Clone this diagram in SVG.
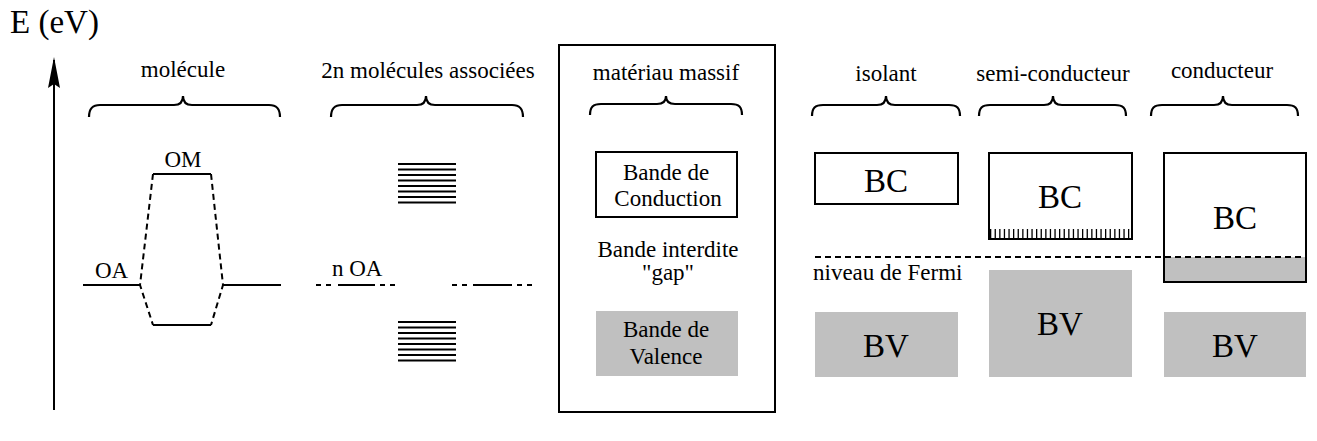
<svg xmlns="http://www.w3.org/2000/svg" width="1317" height="441" viewBox="0 0 1317 441">
<defs>
<style>
text{fill:#000}
.t{font-size:23px}
.big{font-size:33px}
.mid{text-anchor:middle}
.ln{stroke:#000;stroke-width:2;fill:none}
.dash{stroke:#000;stroke-width:2;fill:none;stroke-dasharray:6 4}
.br{stroke:#000;stroke-width:2.2;fill:none}
.box{stroke:#000;stroke-width:2;fill:#fff}
.grey{fill:#c0c0c0}
.stack{stroke:#000;stroke-width:2}
</style>
</defs>
<rect width="1317" height="441" fill="#fff"/>
<g font-family="'Liberation Serif', 'Times New Roman', 'DejaVu Serif', serif">

<g id="axis">
<line x1="54" y1="410" x2="54" y2="60" class="ln"/>
<path d="M54,57 L60,88 L54,84 L48,88 Z" fill="#000"/>
<text x="10" y="33" class="big">E (eV)</text>
</g>

<g id="molecule">
<text x="183" y="77" class="t mid">molécule</text>
<path class="br" d="M89,117 C89,109 92,105 100,105 L174,105 C180,105 183,102 183,96 C183,102 186,105 192,105 L269,105 C277,105 280,109 280,117"/>
<text x="183" y="167" class="t mid">OM</text>
<line x1="153" y1="174" x2="211" y2="174" class="ln"/>
<line x1="153" y1="325" x2="211" y2="325" class="ln"/>
<line x1="83" y1="285" x2="140" y2="285" class="ln"/>
<line x1="223" y1="285" x2="281" y2="285" class="ln"/>
<text x="95" y="278" class="t">OA</text>
<path class="dash" d="M153,174 L140,285 L153,325"/>
<path class="dash" d="M211,174 L223,285 L211,325"/>
</g>

<g id="associated">
<text x="428" y="78" class="t mid">2n molécules associées</text>
<path class="br" d="M331,117 C331,109 334,105 342,105 L417,105 C423,105 426,102 426,96 C426,102 429,105 435,105 L512,105 C520,105 523,109 523,117"/>
<g class="stack">
<line x1="398" y1="164" x2="456" y2="164"/>
<line x1="398" y1="169.5" x2="456" y2="169.5"/>
<line x1="398" y1="175" x2="456" y2="175"/>
<line x1="398" y1="180.5" x2="456" y2="180.5"/>
<line x1="398" y1="186" x2="456" y2="186"/>
<line x1="398" y1="191.5" x2="456" y2="191.5"/>
<line x1="398" y1="197" x2="456" y2="197"/>
<line x1="398" y1="202.5" x2="456" y2="202.5"/>
<line x1="398" y1="322" x2="456" y2="322"/>
<line x1="398" y1="327.5" x2="456" y2="327.5"/>
<line x1="398" y1="333" x2="456" y2="333"/>
<line x1="398" y1="338.5" x2="456" y2="338.5"/>
<line x1="398" y1="344" x2="456" y2="344"/>
<line x1="398" y1="349.5" x2="456" y2="349.5"/>
<line x1="398" y1="355" x2="456" y2="355"/>
<line x1="398" y1="360.5" x2="456" y2="360.5"/>
</g>
<text x="332" y="276" class="t">n OA</text>
<path d="M316,285 L333,285 M380,285 L397,285 M452,285 L469,285 M517,285 L534,285" stroke="#000" stroke-width="2" stroke-dasharray="5 5"/>
<path d="M338,285 L375,285 M473,285 L512,285" class="ln"/>
</g>

<g id="bulk">
<rect x="559" y="45" width="216" height="367" class="ln"/>
<text x="666" y="80" class="t mid">matériau massif</text>
<path class="br" d="M590,115 C590,107 593,104 601,104 L657,104 C663,104 666,101 666,96 C666,101 669,104 675,104 L731,104 C739,104 742,107 742,115"/>
<rect x="596" y="152" width="141" height="65" class="box"/>
<text x="666" y="180" class="t mid">Bande de</text>
<text x="668" y="206" class="t mid">Conduction</text>
<text x="668" y="257" class="t mid">Bande interdite</text>
<text x="668" y="280" class="t mid">"gap"</text>
<rect x="596" y="311" width="142" height="65" class="grey"/>
<text x="666" y="337" class="t mid">Bande de</text>
<text x="666" y="364" class="t mid">Valence</text>
</g>

<g id="isolant">
<text x="886" y="81" class="t mid">isolant</text>
<path class="br" d="M812,116 C812,108 815,105 823,105 L877,105 C883,105 886,102 886,96 C886,102 889,105 895,105 L949,105 C957,105 960,108 960,116"/>
<rect x="815" y="153" width="143" height="51" class="box"/>
<text x="886" y="192" class="big mid">BC</text>
<rect x="815" y="312" width="143" height="65" class="grey"/>
<text x="886" y="357" class="big mid">BV</text>
</g>

<g id="semi">
<text x="1053" y="81" class="t mid">semi-conducteur</text>
<path class="br" d="M979,116 C979,108 982,105 990,105 L1044,105 C1050,105 1053,102 1053,96 C1053,102 1056,105 1062,105 L1115,105 C1123,105 1126,108 1126,116"/>
<rect x="989" y="153" width="143" height="86" class="box"/>
<line x1="990" y1="234" x2="1131" y2="234" stroke="#000" stroke-width="10" stroke-dasharray="1.3 3.3"/>
<text x="1060" y="208" class="big mid">BC</text>
<rect x="989" y="270" width="143" height="107" class="grey"/>
<text x="1060" y="335" class="big mid">BV</text>
</g>

<g id="conducteur">
<text x="1222" y="78" class="t mid">conducteur</text>
<path class="br" d="M1151,116 C1151,108 1154,105 1162,105 L1214,105 C1220,105 1223,102 1223,96 C1223,102 1226,105 1232,105 L1287,105 C1295,105 1298,108 1298,116"/>
<rect x="1164" y="153" width="142" height="129" class="box"/>
<rect x="1165" y="257" width="140" height="24" class="grey"/>
<text x="1235" y="229" class="big mid">BC</text>
<rect x="1164" y="312" width="142" height="65" class="grey"/>
<text x="1235" y="357" class="big mid">BV</text>
</g>

<g id="connectors">
<line x1="815" y1="257" x2="1306" y2="257" class="dash"/>
<text x="813" y="280" class="t">niveau de Fermi</text>
</g>
</g>
</svg>
